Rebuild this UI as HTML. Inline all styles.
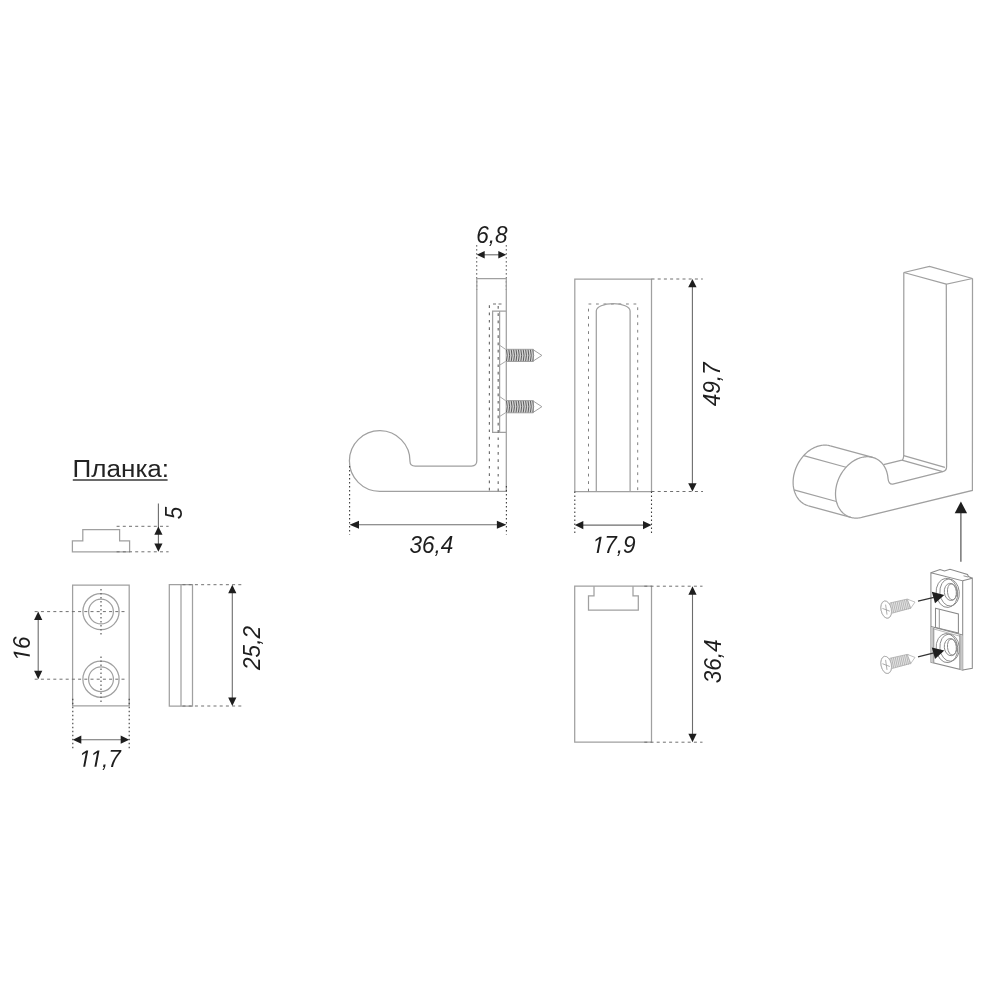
<!DOCTYPE html>
<html><head><meta charset="utf-8"><style>
html,body{margin:0;padding:0;background:#fff;}
svg{display:block;}
text{font-family:"Liberation Sans",sans-serif;-webkit-font-smoothing:antialiased;}
</style></head><body>
<svg width="1000" height="1000" viewBox="0 0 1000 1000">
<rect width="1000" height="1000" fill="#fff"/>
<g opacity="0.999">
<text x="0" y="0" font-size="23" font-style="normal" text-anchor="start" fill="#222" transform="translate(72.6 477.3)" textLength="96.5" lengthAdjust="spacingAndGlyphs">Планка:</text>
<line x1="72.8" y1="479.9" x2="167.6" y2="479.9" stroke="#6a6a6a" stroke-width="2" />
<path d="M72.4,551.8 V540.8 H82.8 V529.5 H119.6 V540.8 H129.6 V551.8 Z" stroke="#a0a0a0" stroke-width="1.25" fill="none" />
<line x1="116.6" y1="526.3" x2="168.6" y2="526.3" stroke="#707070" stroke-width="1.0" stroke-dasharray="3 3.2" />
<line x1="116.6" y1="551.8" x2="168.6" y2="551.8" stroke="#707070" stroke-width="1.0" stroke-dasharray="3 3.2" />
<line x1="158.4" y1="503.5" x2="158.4" y2="545" stroke="#6c6c6c" stroke-width="1.1" />
<polygon points="158.4,526.6 162.5,534.8 154.3,534.8" fill="#1e1e1e"/>
<polygon points="158.4,551.8 154.3,543.4 162.5,543.4" fill="#1e1e1e"/>
<g transform="translate(182.3 513) rotate(-90) scale(0.96 1)"><text x="0" y="0" font-size="23.5" font-style="italic" text-anchor="middle" fill="#1e1e1e">5</text></g>
<path d="M72.6,585 H129.2 V705.8 H72.6 Z" stroke="#a0a0a0" stroke-width="1.25" fill="none" />
<circle cx="101" cy="611.6" r="18.1" stroke="#a0a0a0" stroke-width="1.25" fill="none"/>
<circle cx="101" cy="611.6" r="12.4" stroke="#a0a0a0" stroke-width="1.25" fill="none"/>
<line x1="101" y1="589" x2="101" y2="634.6" stroke="#666" stroke-width="1.3" stroke-dasharray="1.4 2.6" />
<line x1="34.7" y1="611.6" x2="124.8" y2="611.6" stroke="#707070" stroke-width="1.0" stroke-dasharray="3 3.2" />
<circle cx="101" cy="679.2" r="18.1" stroke="#a0a0a0" stroke-width="1.25" fill="none"/>
<circle cx="101" cy="679.2" r="12.4" stroke="#a0a0a0" stroke-width="1.25" fill="none"/>
<line x1="101" y1="656.6" x2="101" y2="702.2" stroke="#666" stroke-width="1.3" stroke-dasharray="1.4 2.6" />
<line x1="34.7" y1="679.2" x2="124.8" y2="679.2" stroke="#707070" stroke-width="1.0" stroke-dasharray="3 3.2" />
<line x1="38.2" y1="616.7" x2="38.2" y2="674.1" stroke="#6c6c6c" stroke-width="1.1" />
<polygon points="38.2,611.6 42.3,620.1 34.1,620.1" fill="#1e1e1e"/>
<polygon points="38.2,679.2 34.1,670.7 42.3,670.7" fill="#1e1e1e"/>
<g transform="translate(29.8 648.4) rotate(-90) scale(0.96 1)"><text x="0" y="0" font-size="23.5" font-style="italic" text-anchor="middle" fill="#1e1e1e"> 6</text><polygon points="-8.49,0 -5.75,-14.03 -9.9,-11.47 -9.5,-13.54 -5.17,-16.17 -3.26,-16.17 -6.41,0" fill="#1e1e1e"/></g>
<line x1="72.8" y1="698.8" x2="72.8" y2="749.2" stroke="#3c3c3c" stroke-width="1.1" stroke-dasharray="1.4 2.6" />
<line x1="129.2" y1="698.8" x2="129.2" y2="749.2" stroke="#3c3c3c" stroke-width="1.1" stroke-dasharray="1.4 2.6" />
<line x1="77.9" y1="739.7" x2="124.1" y2="739.7" stroke="#6c6c6c" stroke-width="1.1" />
<polygon points="72.8,739.7 81.3,735.6 81.3,743.8" fill="#1e1e1e"/>
<polygon points="129.2,739.7 120.7,743.8 120.7,735.6" fill="#1e1e1e"/>
<g transform="translate(100.1 766.7) scale(0.96 1)"><text x="0" y="0" font-size="23.5" font-style="italic" text-anchor="middle" fill="#1e1e1e">  ,7</text><polygon points="-17.62,0 -14.89,-14.03 -19.04,-11.47 -18.63,-13.54 -14.31,-16.17 -12.4,-16.17 -15.55,0" fill="#1e1e1e"/><polygon points="-5.88,0 -3.14,-14.03 -7.29,-11.47 -6.88,-13.54 -2.56,-16.17 -0.65,-16.17 -3.8,0" fill="#1e1e1e"/></g>
<path d="M169.3,584.7 H192.5 V706 H169.3 Z" stroke="#a0a0a0" stroke-width="1.25" fill="none" />
<line x1="181" y1="584.7" x2="181" y2="706" stroke="#a0a0a0" stroke-width="1.25" />
<line x1="182.5" y1="584.7" x2="242.5" y2="584.7" stroke="#707070" stroke-width="1.0" stroke-dasharray="3 3.2" />
<line x1="182.5" y1="706" x2="242.5" y2="706" stroke="#707070" stroke-width="1.0" stroke-dasharray="3 3.2" />
<line x1="232.3" y1="589.8" x2="232.3" y2="700.9" stroke="#6c6c6c" stroke-width="1.1" />
<polygon points="232.3,584.7 236.4,593.2 228.2,593.2" fill="#1e1e1e"/>
<polygon points="232.3,706 228.2,697.5 236.4,697.5" fill="#1e1e1e"/>
<g transform="translate(259.5 648) rotate(-90) scale(0.96 1)"><text x="0" y="0" font-size="23.5" font-style="italic" text-anchor="middle" fill="#1e1e1e">25,2</text></g>
<g transform="translate(491.8 242.6) scale(0.96 1)"><text x="0" y="0" font-size="23.5" font-style="italic" text-anchor="middle" fill="#1e1e1e">6,8</text></g>
<line x1="476.7" y1="245.2" x2="476.7" y2="290" stroke="#3c3c3c" stroke-width="1.1" stroke-dasharray="1.4 2.6" />
<line x1="506.3" y1="245.2" x2="506.3" y2="290" stroke="#3c3c3c" stroke-width="1.1" stroke-dasharray="1.4 2.6" />
<line x1="481.5" y1="254.8" x2="501.5" y2="254.8" stroke="#6c6c6c" stroke-width="1.1" />
<polygon points="476.7,254.8 484.7,251 484.7,258.6" fill="#1e1e1e"/>
<polygon points="506.3,254.8 498.3,258.6 498.3,251" fill="#1e1e1e"/>
<path d="M476.8,278.7 H506.3 V491.3 H379.7 A30.3,30.3 0 1 1 410,461.5 Q410,466 415.2,466 H471.6 Q476.8,466 476.8,460.8 Z" stroke="#a0a0a0" stroke-width="1.25" fill="none" />
<path d="M506.3,311.1 H492.6 V432.3 H506.3" stroke="#a0a0a0" stroke-width="1.25" fill="none" />
<line x1="499.6" y1="311.1" x2="499.6" y2="432.3" stroke="#a0a0a0" stroke-width="1.25" />
<line x1="489.4" y1="305.3" x2="489.4" y2="491.2" stroke="#707070" stroke-width="1.2" stroke-dasharray="2.7 4.6" />
<line x1="498.2" y1="306" x2="498.2" y2="491.2" stroke="#707070" stroke-width="1.2" stroke-dasharray="2.7 4.6" />
<line x1="493" y1="304" x2="501.5" y2="304" stroke="#707070" stroke-width="1.1" stroke-dasharray="3 2.5" />
<path d="M499.6,345.2 L505.6,349.4 M499.6,365.2 L505.6,361.4" stroke="#a8a8a8" stroke-width="1.0" fill="none" />
<path d="M533.3,349.8 L541.9,355.4 L533.3,361" stroke="#a0a0a0" stroke-width="1.0" fill="none" />
<rect x="505.9" y="349.3" width="27.4" height="12.2" fill="#d4d4d4"/>
<path d=" M506.4,349.4 L507.24,355.4 L506.4,361.4 M508.8,349.4 L509.64,355.4 L508.8,361.4 M511.2,349.4 L512.04,355.4 L511.2,361.4 M513.6,349.4 L514.44,355.4 L513.6,361.4 M516,349.4 L516.84,355.4 L516,361.4 M518.4,349.4 L519.24,355.4 L518.4,361.4 M520.8,349.4 L521.64,355.4 L520.8,361.4 M523.2,349.4 L524.04,355.4 L523.2,361.4 M525.6,349.4 L526.44,355.4 L525.6,361.4 M528,349.4 L528.84,355.4 L528,361.4 M530.4,349.4 L531.24,355.4 L530.4,361.4 M532.8,349.4 L533.64,355.4 L532.8,361.4" stroke="#555" stroke-width="0.95" fill="none" />
<path d="M505.9,349.3 H533.3 M505.9,361.5 H533.3 M533.3,349.3 V361.5" stroke="#9a9a9a" stroke-width="0.9" fill="none" />
<path d="M499.6,396.5 L505.6,400.7 M499.6,416.5 L505.6,412.7" stroke="#a8a8a8" stroke-width="1.0" fill="none" />
<path d="M533.3,401.1 L541.9,406.7 L533.3,412.3" stroke="#a0a0a0" stroke-width="1.0" fill="none" />
<rect x="505.9" y="400.6" width="27.4" height="12.2" fill="#d4d4d4"/>
<path d=" M506.4,400.7 L507.24,406.7 L506.4,412.7 M508.8,400.7 L509.64,406.7 L508.8,412.7 M511.2,400.7 L512.04,406.7 L511.2,412.7 M513.6,400.7 L514.44,406.7 L513.6,412.7 M516,400.7 L516.84,406.7 L516,412.7 M518.4,400.7 L519.24,406.7 L518.4,412.7 M520.8,400.7 L521.64,406.7 L520.8,412.7 M523.2,400.7 L524.04,406.7 L523.2,412.7 M525.6,400.7 L526.44,406.7 L525.6,412.7 M528,400.7 L528.84,406.7 L528,412.7 M530.4,400.7 L531.24,406.7 L530.4,412.7 M532.8,400.7 L533.64,406.7 L532.8,412.7" stroke="#555" stroke-width="0.95" fill="none" />
<path d="M505.9,400.6 H533.3 M505.9,412.8 H533.3 M533.3,400.6 V412.8" stroke="#9a9a9a" stroke-width="0.9" fill="none" />
<line x1="349.6" y1="466" x2="349.6" y2="534.5" stroke="#3c3c3c" stroke-width="1.1" stroke-dasharray="1.4 2.6" />
<line x1="506.4" y1="486" x2="506.4" y2="534.5" stroke="#3c3c3c" stroke-width="1.1" stroke-dasharray="1.4 2.6" />
<line x1="355.2" y1="524.8" x2="500.7" y2="524.8" stroke="#6c6c6c" stroke-width="1.1" />
<polygon points="349.5,524.8 359,520.8 359,528.8" fill="#1e1e1e"/>
<polygon points="506.4,524.8 496.9,528.8 496.9,520.8" fill="#1e1e1e"/>
<g transform="translate(431.4 553.4) scale(0.96 1)"><text x="0" y="0" font-size="23.5" font-style="italic" text-anchor="middle" fill="#1e1e1e">36,4</text></g>
<path d="M574.8,279 H651.5 V491.5 H574.8 Z" stroke="#a0a0a0" stroke-width="1.25" fill="none" />
<path d="M588.5,491.5 V304 H637.7 V491.5" stroke="#808080" stroke-width="1.0" fill="none" stroke-dasharray="2.8 4.7"/>
<path d="M596.3,491.5 V311 A16.9,7.4 0 0 1 630.1,311 V491.5" stroke="#a0a0a0" stroke-width="1.25" fill="none" />
<line x1="651.5" y1="279" x2="702.8" y2="279" stroke="#707070" stroke-width="1.0" stroke-dasharray="3 3.2" />
<line x1="651.5" y1="491.5" x2="703" y2="491.5" stroke="#707070" stroke-width="1.0" stroke-dasharray="3 3.2" />
<line x1="692.4" y1="283.98" x2="692.4" y2="486.52" stroke="#6c6c6c" stroke-width="1.1" />
<polygon points="692.4,279 696.6,287.3 688.2,287.3" fill="#1e1e1e"/>
<polygon points="692.4,491.5 688.2,483.2 696.6,483.2" fill="#1e1e1e"/>
<g transform="translate(720.3 384.4) rotate(-90) scale(0.96 1)"><text x="0" y="0" font-size="23.5" font-style="italic" text-anchor="middle" fill="#1e1e1e">49,7</text></g>
<line x1="574.8" y1="491.5" x2="574.8" y2="535.2" stroke="#3c3c3c" stroke-width="1.1" stroke-dasharray="1.4 2.6" />
<line x1="651.5" y1="491.5" x2="651.5" y2="535.2" stroke="#3c3c3c" stroke-width="1.1" stroke-dasharray="1.4 2.6" />
<line x1="579.9" y1="525.1" x2="646.4" y2="525.1" stroke="#6c6c6c" stroke-width="1.1" />
<polygon points="574.8,525.1 583.3,521 583.3,529.2" fill="#1e1e1e"/>
<polygon points="651.5,525.1 643,529.2 643,521" fill="#1e1e1e"/>
<g transform="translate(614.2 553) scale(0.96 1)"><text x="0" y="0" font-size="23.5" font-style="italic" text-anchor="middle" fill="#1e1e1e"> 7,9</text><polygon points="-18.28,0 -15.55,-14.03 -19.7,-11.47 -19.29,-13.54 -14.97,-16.17 -13.06,-16.17 -16.21,0" fill="#1e1e1e"/></g>
<path d="M574.7,586.2 H651.5 V742.2 H574.7 Z" stroke="#a0a0a0" stroke-width="1.25" fill="none" />
<path d="M594,586.2 V595.8 H588.5 V610.2 H638.3 V595.8 H633 V586.2" stroke="#a0a0a0" stroke-width="1.25" fill="none" />
<line x1="644.3" y1="586.2" x2="702.5" y2="586.2" stroke="#707070" stroke-width="1.0" stroke-dasharray="3 3.2" />
<line x1="644.3" y1="742.2" x2="702.5" y2="742.2" stroke="#707070" stroke-width="1.0" stroke-dasharray="3 3.2" />
<line x1="692.5" y1="591.3" x2="692.5" y2="737.1" stroke="#6c6c6c" stroke-width="1.1" />
<polygon points="692.5,586.2 696.6,594.7 688.4,594.7" fill="#1e1e1e"/>
<polygon points="692.5,742.2 688.4,733.7 696.6,733.7" fill="#1e1e1e"/>
<g transform="translate(721 661.4) rotate(-90) scale(0.96 1)"><text x="0" y="0" font-size="23.5" font-style="italic" text-anchor="middle" fill="#1e1e1e">36,4</text></g>
<path d="M830.31,445.81 L829.36,445.57 L828.4,445.39 L827.42,445.25 L826.43,445.15 L825.43,445.11 L824.42,445.11 L823.41,445.16 L822.38,445.25 L821.36,445.39 L820.32,445.58 L819.29,445.82 L818.26,446.1 L817.23,446.43 L816.2,446.8 L815.18,447.22 L814.17,447.68 L813.16,448.19 L812.16,448.74 L811.17,449.33 L810.2,449.96 L809.24,450.63 L808.3,451.34 L807.37,452.08 L806.46,452.87 L805.57,453.69 L804.7,454.54 L803.86,455.43 L803.04,456.34 L802.24,457.29 L801.47,458.27 L800.73,459.27 L800.02,460.3 L799.34,461.35 L798.69,462.42 L798.07,463.52 L797.48,464.63 L796.93,465.76 L796.41,466.91 L795.93,468.07 L795.48,469.24 L795.07,470.43 L794.7,471.62 L794.36,472.81 L794.07,474.02 L793.81,475.22 L793.59,476.43 L793.42,477.63 L793.28,478.83 L793.18,480.03 L793.13,481.22 L793.11,482.4 L793.13,483.57 L793.2,484.73 L793.3,485.88 L793.45,487.01 L793.64,488.12 L793.86,489.22 L794.13,490.29 L794.43,491.34 L794.77,492.37 L795.15,493.37 L795.57,494.35 L796.02,495.29 L796.51,496.21 L797.04,497.09 L797.6,497.95 L798.19,498.76 L798.82,499.55 L799.48,500.29 L800.17,501 L800.89,501.67 L801.63,502.3 L802.41,502.89 L803.21,503.43 L804.03,503.94 L804.88,504.4 L805.75,504.81 L806.65,505.18 L807.56,505.51 L808.49,505.79" stroke="#a0a0a0" stroke-width="1.25" fill="none" />
<line x1="830.31" y1="445.81" x2="872.71" y2="457.41" stroke="#a0a0a0" stroke-width="1.25" />
<line x1="808.49" y1="505.79" x2="850.89" y2="517.39" stroke="#a0a0a0" stroke-width="1.25" />
<line x1="803.64" y1="455.67" x2="846.04" y2="467.27" stroke="#a0a0a0" stroke-width="1.25" />
<line x1="794.02" y1="489.89" x2="836.42" y2="501.49" stroke="#a0a0a0" stroke-width="1.25" />
<path d="M972.5,278.5 L972.4,490.4 L861.68,517.44 L860.66,517.66 L859.65,517.84 L858.64,517.97 L857.64,518.05 L856.64,518.1 L855.65,518.09 L854.67,518.04 L853.7,517.94 L852.74,517.8 L851.8,517.62 L850.87,517.39 L849.96,517.11 L849.06,516.79 L848.18,516.42 L847.33,516.02 L846.49,515.57 L845.68,515.08 L844.89,514.54 L844.13,513.97 L843.39,513.36 L842.68,512.71 L842,512.02 L841.35,511.29 L840.72,510.53 L840.13,509.74 L839.58,508.91 L839.05,508.05 L838.56,507.16 L838.1,506.24 L837.68,505.29 L837.3,504.32 L836.95,503.32 L836.64,502.29 L836.36,501.25 L836.12,500.18 L835.92,499.09 L835.76,497.99 L835.64,496.87 L835.56,495.74 L835.52,494.59 L835.51,493.44 L835.55,492.27 L835.62,491.1 L835.73,489.92 L835.88,488.74 L836.07,487.56 L836.3,486.38 L836.57,485.19 L836.87,484.02 L837.21,482.84 L837.59,481.68 L838,480.52 L838.45,479.37 L838.93,478.23 L839.45,477.11 L840,476 L840.58,474.91 L841.2,473.84 L841.84,472.79 L842.51,471.76 L843.22,470.75 L843.95,469.77 L844.71,468.81 L845.49,467.89 L846.3,466.99 L847.13,466.12 L847.98,465.28 L848.85,464.48 L849.74,463.71 L850.65,462.97 L851.58,462.27 L852.52,461.61 L853.47,460.99 L854.44,460.41 L855.42,459.86 L856.41,459.36 L857.4,458.9 L858.41,458.48 L859.41,458.11 L860.42,457.77 L861.44,457.49 L862.45,457.24 L863.46,457.04 L864.47,456.89 L865.48,456.78 L866.48,456.72 L867.47,456.7 L868.46,456.73 L869.43,456.8 L870.4,456.92 L871.35,457.09 L872.29,457.3 L873.21,457.55 L874.11,457.85 L875,458.2 L875.87,458.58 L876.71,459.01 L877.54,459.48 L878.34,460 L879.11,460.55 L879.86,461.14 L880.58,461.78 L881.28,462.45 L881.95,463.15 L882.58,463.9 L883.19,464.68 L883.76,465.49 L884.3,466.33 L884.81,467.21 L885.28,468.12 L885.72,469.05 L886.12,470.01 L886.49,471 L886.82,472.02 L887.11,473.05 L887.37,474.11 L887.58,475.18 L887.76,476.28 L887.9,477.39 L888.01,478.52 Q888.61,484.6 892.8,484.2 L942.7,471.7 Q946.6,470.8 946.6,466.8 L946.3,284.2 L972.5,278.5" stroke="#a0a0a0" stroke-width="1.25" fill="none" />
<path d="M946.3,284.2 L903.8,272.5 L929.5,266.5 L972.5,278.5" stroke="#a0a0a0" stroke-width="1.25" fill="none" />
<path d="M903.8,272.5 L903.7,455.2 Q903.5,459.6 901.9,460.2 L883.6,464.6" stroke="#a0a0a0" stroke-width="1.25" fill="none" />
<line x1="903.7" y1="455.6" x2="944.9" y2="467.3" stroke="#a0a0a0" stroke-width="1.25" />
<line x1="901.9" y1="460.2" x2="942.7" y2="471.7" stroke="#a0a0a0" stroke-width="1.25" />
<line x1="960.9" y1="561.8" x2="960.9" y2="511" stroke="#444" stroke-width="1.1" />
<polygon points="960.9,501.4 967.1,513.2 954.7,513.2" fill="#1e1e1e"/>
<path d="M930.9,572.8 L962.7,580.8 L962.7,670.1 L931,662.3 Z" stroke="#8a8a8a" stroke-width="1.05" fill="none" />
<path d="M962.7,580.8 L972.3,578.2 L972.3,668.3 L962.7,670.1" stroke="#8a8a8a" stroke-width="1.05" fill="none" />
<path d="M930.9,572.8 L940,569.5 L944.5,571 L950,569.3 L967.5,574.5 L968.5,576.5 L972.3,578.2" stroke="#8a8a8a" stroke-width="1.05" fill="none" />
<path d="M963.5,575.8 L968,577" stroke="#8a8a8a" stroke-width="0.9" fill="none" />
<path d="M931,626.6 L962.7,635" stroke="#8a8a8a" stroke-width="1.05" fill="none" />
<line x1="931" y1="628.2" x2="960.3" y2="636.3" stroke="#b0b0b0" stroke-width="0.9" />
<polygon points="931,627 933.8,627.8 933.8,663 931,662.3" fill="#c8c8c8"/>
<polygon points="959.8,635 962.7,635.6 962.7,670.1 959.8,669.4" fill="#c8c8c8"/>
<line x1="933.8" y1="627.8" x2="933.8" y2="663" stroke="#8a8a8a" stroke-width="0.9" />
<line x1="959.8" y1="635" x2="959.8" y2="669.4" stroke="#8a8a8a" stroke-width="0.9" />
<path d="M935.5,608.3 L958.4,613.9 L958.4,633 L935.5,627.4 Z" stroke="#8a8a8a" stroke-width="1.05" fill="none" />
<path d="M939.3,609.3 L939.3,628.3" stroke="#8a8a8a" stroke-width="0.9" fill="none" />
<ellipse cx="946.9" cy="592.9" rx="10.8" ry="14.6" transform="rotate(-5 946.9 592.9)" stroke="#8a8a8a" stroke-width="0.95" fill="none"/>
<ellipse cx="949.6" cy="592.5" rx="9.7" ry="13.6" transform="rotate(-5 949.6 592.5)" stroke="#8a8a8a" stroke-width="0.95" fill="none"/>
<ellipse cx="950.6" cy="591.9" rx="6.3" ry="8.6" transform="rotate(-6 950.6 591.9)" stroke="#8a8a8a" stroke-width="0.95" fill="none"/>
<ellipse cx="951.9" cy="591.9" rx="4.4" ry="8.1" transform="rotate(-6 951.9 591.9)" stroke="#8a8a8a" stroke-width="0.95" fill="none"/>
<ellipse cx="946.9" cy="648.1" rx="10.8" ry="14.6" transform="rotate(-5 946.9 648.1)" stroke="#8a8a8a" stroke-width="0.95" fill="none"/>
<ellipse cx="949.6" cy="647.7" rx="9.7" ry="13.6" transform="rotate(-5 949.6 647.7)" stroke="#8a8a8a" stroke-width="0.95" fill="none"/>
<ellipse cx="950.6" cy="647.1" rx="6.3" ry="8.6" transform="rotate(-6 950.6 647.1)" stroke="#8a8a8a" stroke-width="0.95" fill="none"/>
<ellipse cx="951.9" cy="647.1" rx="4.4" ry="8.1" transform="rotate(-6 951.9 647.1)" stroke="#8a8a8a" stroke-width="0.95" fill="none"/>
<polygon points="931.8,591.8 944.3,595 935,603.3" fill="#1e1e1e"/>
<line x1="918" y1="601.2" x2="934" y2="597.3" stroke="#333" stroke-width="1.2" />
<polygon points="931.8,647.4 944.3,650.6 935,658.9" fill="#1e1e1e"/>
<line x1="918" y1="656.8" x2="934" y2="652.9" stroke="#333" stroke-width="1.2" />
<ellipse cx="886.2" cy="609.6" rx="5.1" ry="8.7" transform="rotate(-12 886.2 609.6)" stroke="#b0b0b0" stroke-width="0.9" fill="#fff"/>
<polygon points="889.8,603 907.2,599.1 910.8,608.1 892.2,613.2" fill="#e6e6e6" stroke="#b0b0b0" stroke-width="0.8"/>
<path d=" M891.5,602.6 L893.7,612.6 M893.35,602.19 L895.55,612.19 M895.2,601.78 L897.4,611.78 M897.05,601.37 L899.25,611.37 M898.9,600.96 L901.1,610.96 M900.75,600.55 L902.95,610.55 M902.6,600.14 L904.8,610.14 M904.45,599.73 L906.65,609.73 M906.3,599.32 L908.5,609.32 M908.15,598.91 L910.35,608.91" stroke="#a0a0a0" stroke-width="0.7" fill="none" />
<polygon points="907.2,599.1 915,602.1 910.8,608.1" fill="#fff" stroke="#b0b0b0" stroke-width="0.8"/>
<ellipse cx="886.2" cy="609.6" rx="5.1" ry="8.7" transform="rotate(-12 886.2 609.6)" stroke="#b0b0b0" stroke-width="0.9" fill="#fff"/>
<path d="M885.6,604.6 L887,614.6 M882.4,608.4 L889.8,611.2" stroke="#999" stroke-width="0.8" fill="none" />
<ellipse cx="886.2" cy="664.9" rx="5.1" ry="8.7" transform="rotate(-12 886.2 664.9)" stroke="#b0b0b0" stroke-width="0.9" fill="#fff"/>
<polygon points="889.8,658.3 907.2,654.4 910.8,663.4 892.2,668.5" fill="#e6e6e6" stroke="#b0b0b0" stroke-width="0.8"/>
<path d=" M891.5,657.9 L893.7,667.9 M893.35,657.49 L895.55,667.49 M895.2,657.08 L897.4,667.08 M897.05,656.67 L899.25,666.67 M898.9,656.26 L901.1,666.26 M900.75,655.85 L902.95,665.85 M902.6,655.44 L904.8,665.44 M904.45,655.03 L906.65,665.03 M906.3,654.62 L908.5,664.62 M908.15,654.21 L910.35,664.21" stroke="#a0a0a0" stroke-width="0.7" fill="none" />
<polygon points="907.2,654.4 915,657.4 910.8,663.4" fill="#fff" stroke="#b0b0b0" stroke-width="0.8"/>
<ellipse cx="886.2" cy="664.9" rx="5.1" ry="8.7" transform="rotate(-12 886.2 664.9)" stroke="#b0b0b0" stroke-width="0.9" fill="#fff"/>
<path d="M885.6,659.9 L887,669.9 M882.4,663.7 L889.8,666.5" stroke="#999" stroke-width="0.8" fill="none" />
</g>
</svg>
</body></html>
